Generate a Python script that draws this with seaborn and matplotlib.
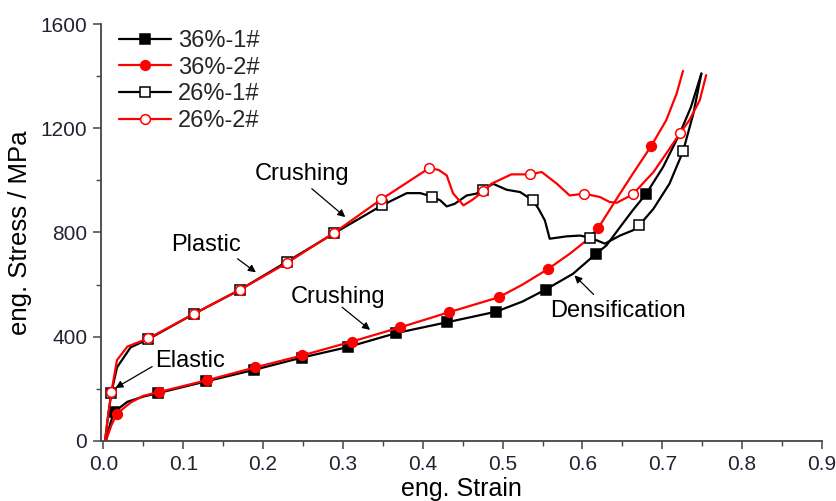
import numpy as np
import matplotlib
matplotlib.use("Agg")
import matplotlib.pyplot as plt
from matplotlib.lines import Line2D
from matplotlib.ticker import MultipleLocator, FormatStrFormatter
import seaborn as sns

# ---------------- data ----------------
labels = ["36%-1#", "36%-2#", "26%-1#", "26%-2#"]

x_36_1 = [0.003, 0.008, 0.013, 0.030, 0.050, 0.068, 0.128, 0.188, 0.249, 0.306, 0.367, 0.430,
          0.492, 0.525, 0.554, 0.588, 0.617, 0.630, 0.647, 0.663, 0.680, 0.701, 0.722, 0.736, 0.749]
y_36_1 = [0, 60, 110, 150, 170, 183, 228, 272, 320, 360, 414, 455,
          496, 535, 581, 641, 718, 750, 820, 885, 949, 1051, 1180, 1282, 1410]
mk_36_1 = [0.013, 0.068, 0.128, 0.188, 0.249, 0.306, 0.367, 0.430, 0.492, 0.554, 0.617, 0.680]

x_36_2 = [0.003, 0.010, 0.017, 0.034, 0.050, 0.070, 0.130, 0.190, 0.249, 0.311, 0.372, 0.433,
          0.495, 0.525, 0.557, 0.584, 0.605, 0.620, 0.643, 0.663, 0.686, 0.705, 0.718, 0.726]
y_36_2 = [0, 60, 105, 147, 173, 188, 233, 282, 328, 381, 436, 494,
          551, 600, 660, 718, 769, 818, 930, 1025, 1131, 1231, 1333, 1420]
mk_36_2 = [0.017, 0.070, 0.130, 0.190, 0.249, 0.311, 0.372, 0.433, 0.495, 0.557, 0.620, 0.686]

x_26_1 = [0.002, 0.006, 0.010, 0.017, 0.034, 0.056, 0.113, 0.171, 0.230, 0.289, 0.349, 0.380,
          0.397, 0.411, 0.422, 0.430, 0.440, 0.455, 0.467, 0.475, 0.488, 0.505, 0.522, 0.538,
          0.545, 0.553, 0.559, 0.580, 0.597, 0.610, 0.628, 0.647, 0.663, 0.671, 0.689, 0.709,
          0.726, 0.739, 0.749]
y_26_1 = [0, 100, 185, 282, 359, 390, 487, 580, 688, 797, 904, 951,
          951, 938, 923, 900, 910, 942, 949, 962, 987, 964, 955, 923,
          891, 846, 776, 785, 788, 780, 757, 788, 808, 827, 891, 987,
          1111, 1257, 1410]
mk_26_1 = [0.010, 0.056, 0.113, 0.171, 0.230, 0.289, 0.349, 0.411, 0.475, 0.538, 0.610, 0.671, 0.726]

x_26_2 = [0.002, 0.006, 0.010, 0.017, 0.030, 0.056, 0.113, 0.171, 0.230, 0.289, 0.348, 0.378,
          0.408, 0.420, 0.430, 0.438, 0.451, 0.462, 0.476, 0.486, 0.511, 0.534, 0.549, 0.568,
          0.584, 0.602, 0.622, 0.634, 0.643, 0.663, 0.689, 0.705, 0.722, 0.734, 0.747, 0.755]
y_26_2 = [0, 100, 188, 310, 362, 393, 487, 580, 683, 799, 927, 987,
          1047, 1040, 1019, 950, 904, 925, 958, 987, 1023, 1023, 1032, 987,
          942, 949, 936, 917, 914, 946, 1032, 1103, 1180, 1231, 1308, 1404]
mk_26_2 = [0.010, 0.056, 0.113, 0.171, 0.230, 0.289, 0.348, 0.408, 0.476, 0.534, 0.602, 0.663, 0.722]

x_ticks = [0.0, 0.1, 0.2, 0.3, 0.4, 0.5, 0.6, 0.7, 0.8, 0.9]
y_ticks = [0, 400, 800, 1200, 1600]

# ---------------- styling ----------------
sns.set_theme(style="ticks")
plt.rcParams['font.family'] = ['Liberation Sans', 'DejaVu Sans']

fig, ax = plt.subplots(figsize=(8.37, 5.01), dpi=100)
fig.subplots_adjust(left=0.1207, right=0.982, bottom=0.120, top=0.952)

series = [
    (labels[0], x_36_1, y_36_1, mk_36_1, "black", "s", "black"),
    (labels[1], x_36_2, y_36_2, mk_36_2, "#ff0000", "o", "#ff0000"),
    (labels[2], x_26_1, y_26_1, mk_26_1, "black", "s", "white"),
    (labels[3], x_26_2, y_26_2, mk_26_2, "#ff0000", "o", "white"),
]

handles = []
for lab, xs, ys, mks, col, mk, face in series:
    xa = np.asarray(xs)
    idx = [int(np.argmin(np.abs(xa - m))) for m in mks]
    sns.lineplot(x=xs, y=ys, ax=ax, sort=False, estimator=None, color=col,
                 linewidth=1.6, marker=mk, markevery=idx, markersize=7,
                 markerfacecolor=face, markeredgecolor=col, markeredgewidth=1.1,
                 legend=False)
    handles.append(Line2D([], [], color=col, linewidth=1.6, marker=mk, markersize=7,
                          markerfacecolor=face, markeredgecolor=col, markeredgewidth=1.1,
                          label=lab))

ax.legend(handles=handles, loc="upper left", bbox_to_anchor=(0.005, 1.02), frameon=False,
          fontsize=17, handlelength=2.2, handletextpad=0.3, labelspacing=0.2,
          borderaxespad=0.2)

ax.set_xlim(-0.003, 0.9)
ax.set_ylim(0, 1600)
ax.set_xticks(x_ticks)
ax.set_yticks(y_ticks)
ax.xaxis.set_minor_locator(MultipleLocator(0.05))
ax.yaxis.set_minor_locator(MultipleLocator(200))
ax.xaxis.set_major_formatter(FormatStrFormatter("%.1f"))
ax.tick_params(which="major", direction="out", length=6, width=1.1, color="#444444",
               labelsize=15, labelcolor="#222233", pad=4)
ax.tick_params(which="minor", direction="out", length=3.5, width=1.0, color="#444444")
sns.despine(ax=ax)
for s in ("left", "bottom"):
    ax.spines[s].set_color("#444444")
    ax.spines[s].set_linewidth(1.3)

ax.set_xlabel("eng. Strain", fontsize=18, labelpad=2, color="black")
ax.set_ylabel("eng. Stress / MPa", fontsize=18.5, labelpad=6, color="black")

# ---------------- annotations ----------------
arrow = dict(arrowstyle="-|>", color="black", lw=0.9, mutation_scale=11, shrinkA=0, shrinkB=0)
notes = [
    ("Elastic", (0.109, 308), (0.061, 285), (0.015, 203)),
    ("Plastic", (0.129, 750), (0.168, 699), (0.191, 647)),
    ("Crushing", (0.249, 1023), (0.261, 968), (0.303, 859)),
    ("Crushing", (0.294, 554), (0.299, 513), (0.334, 426)),
    ("Densification", (0.644, 500), (0.614, 562), (0.590, 635)),
]
for txt, pos, tail, head in notes:
    ax.text(pos[0], pos[1], txt, fontsize=17, ha="center", va="center", color="black")
    ax.annotate("", xy=head, xytext=tail, arrowprops=arrow)

fig.savefig("out.png", dpi=100)
